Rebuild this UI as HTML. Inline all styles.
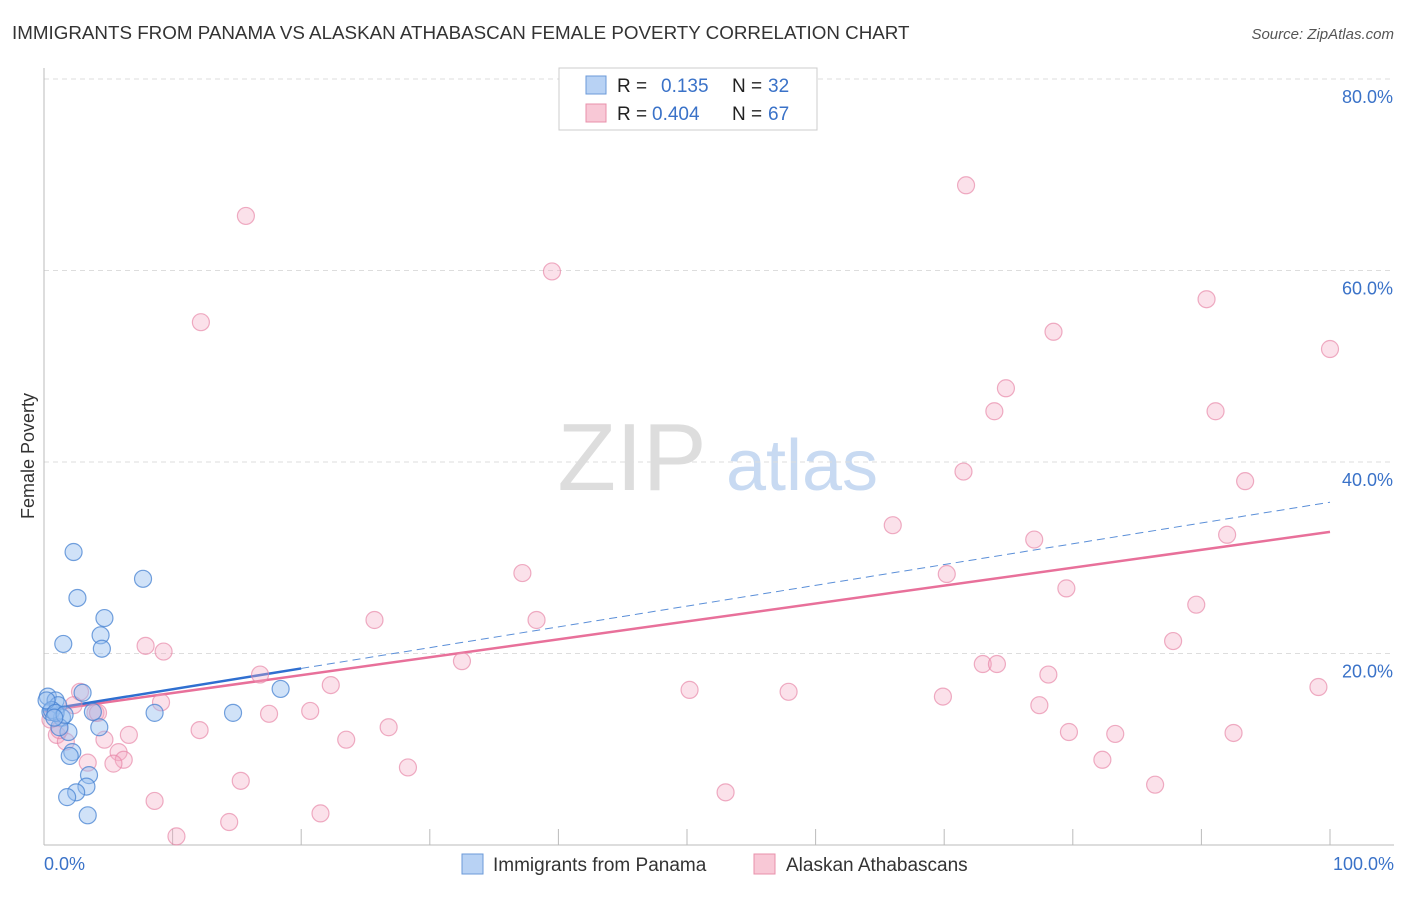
<!DOCTYPE html>
<html><head><meta charset="utf-8"><style>
body{margin:0;background:#fff;font-family:"Liberation Sans",sans-serif}
svg text{font-family:"Liberation Sans",sans-serif}
</style></head><body>
<svg id="chart" width="1406" height="892" viewBox="0 0 1406 892">
<text x="12" y="39" font-size="18.8" fill="#333">IMMIGRANTS FROM PANAMA VS ALASKAN ATHABASCAN FEMALE POVERTY CORRELATION CHART</text>
<text x="1394" y="39" font-size="15" fill="#555" font-style="italic" text-anchor="end">Source: ZipAtlas.com</text>
<text x="34" y="456" font-size="18" fill="#333" transform="rotate(-90 34 456)" text-anchor="middle">Female Poverty</text>
<g>
<text x="632" y="490" font-size="96" font-family="Liberation Serif,serif" fill="#ddd" text-anchor="middle">ZIP</text>
<text x="802" y="490" font-size="72" fill="#c8daf2" text-anchor="middle">atlas</text>
</g>
<g id="grid"></g><g id="axes"></g><g id="trend"></g><g id="pts"></g>
<g>
<rect x="559" y="68" width="258" height="62" fill="#fff" stroke="#ccc"/>
<rect x="586" y="76" width="20" height="18" fill="#b8d2f4" stroke="#6b9ad8"/>
<rect x="586" y="104" width="20" height="18" fill="#f8c8d6" stroke="#e890ab"/>
<text x="617" y="92" font-size="19" fill="#222">R = </text><text x="661" y="92" font-size="19" fill="#3a72c8">0.135</text>
<text x="732" y="92" font-size="19" fill="#222">N = </text><text x="768" y="92" font-size="19" fill="#3a72c8">32</text>
<text x="617" y="120" font-size="19" fill="#222">R = </text><text x="652" y="120" font-size="19" fill="#3a72c8">0.404</text>
<text x="732" y="120" font-size="19" fill="#222">N = </text><text x="768" y="120" font-size="19" fill="#3a72c8">67</text>
</g>
<g>
<rect x="462" y="854" width="21" height="20" fill="#b8d2f4" stroke="#6b9ad8"/>
<text x="493" y="871" font-size="19" fill="#333">Immigrants from Panama</text>
<rect x="754" y="854" width="21" height="20" fill="#f8c8d6" stroke="#e890ab"/>
<text x="786" y="871" font-size="19" fill="#333">Alaskan Athabascans</text>
</g>
</svg>
<script>
const blueX=[2.3,7.7,2.6,4.7,4.4,4.5,1.5,3.0,18.4,8.6,14.7,0.3,0.9,0.5,1.1,1.4,1.9,4.3,3.8,1.2,2.2,2.0,3.5,3.3,2.5,1.8,3.4,0.6,0.2,0.9,1.6,0.8];
const blueY=[30.6,27.8,25.8,23.7,21.9,20.5,21.0,15.9,16.3,13.8,13.8,15.5,15.1,13.9,14.6,13.3,11.8,12.3,13.9,12.3,9.7,9.3,7.3,6.1,5.5,5.0,3.1,14.1,15.1,13.8,13.6,13.3];
const pinkX=[15.7,71.7,12.2,39.5,90.4,78.5,100,74.8,73.9,91.1,71.5,93.4,66.0,92.0,77.0,37.2,70.2,79.5,89.6,25.7,38.3,87.8,7.9,9.3,32.5,73.0,74.1,78.1,16.8,22.3,50.2,57.9,69.9,99.1,2.8,9.1,77.4,20.7,4.0,17.5,26.8,12.1,79.7,83.3,92.5,6.6,1.0,1.7,4.7,23.5,5.8,6.2,5.4,3.4,82.3,28.3,15.3,86.4,53.0,8.6,21.5,14.4,10.3,0.5,4.2,1.2,2.3];
const pinkY=[65.7,68.9,54.6,59.9,57.0,53.6,51.8,47.7,45.3,45.3,39.0,38.0,33.4,32.4,31.9,28.4,28.3,26.8,25.1,23.5,23.5,21.3,20.8,20.2,19.2,18.9,18.9,17.8,17.8,16.7,16.2,16.0,15.5,16.5,16.0,14.9,14.6,14.0,13.8,13.7,12.3,12.0,11.8,11.6,11.7,11.5,11.5,10.8,11.0,11.0,9.7,8.9,8.5,8.6,8.9,8.1,6.7,6.3,5.5,4.6,3.3,2.4,0.9,13.1,13.8,12.0,14.6];
const blueTrend=[14.1,35.8]; // y at x=0 and x=100
const pinkTrend=[14.0,32.7];
const yTicks=[20,40,60,80];
const xTickLabels=["0.0%","100.0%"];
const NS="http://www.w3.org/2000/svg";
const sx=v=>44+v*12.86, sy=v=>845-v*9.575;
function mk(t,a,p){const e=document.createElementNS(NS,t);for(const k in a)e.setAttribute(k,a[k]);p.appendChild(e);return e;}
const grid=document.getElementById('grid'),axes=document.getElementById('axes'),tr=document.getElementById('trend'),pts=document.getElementById('pts');
yTicks.forEach(t=>{
 const l=mk('line',{x1:44,x2:1394,y1:sy(t),y2:sy(t),stroke:'#ddd','stroke-dasharray':'5,4'},grid);
 
 
 const tx=mk('text',{x:1393,y:sy(t)+24,'font-size':18,fill:'#3a72c8','text-anchor':'end'},grid);tx.textContent=t.toFixed(1)+'%';
 
 
});
const ax=mk('line',{x1:44,x2:1394,y1:845,y2:845,stroke:'#bbb'},axes);


const ay=mk('line',{x1:44,x2:44,y1:68,y2:845,stroke:'#bbb'},axes);


for(let i=0;i<=10;i++){const t=mk('line',{x1:sx(i*10),x2:sx(i*10),y1:829,y2:845,stroke:'#bbb'},axes);
 
 }
[[0,'start',44],[100,'end',1394]].forEach((d,i)=>{const t=mk('text',{x:d[2],y:870,'font-size':18,fill:'#3a72c8','text-anchor':d[1]},axes);t.textContent=xTickLabels[i];
 
 });
function line(tv,x0,x1,col,dash,w,name){const f=x=>tv[0]+(tv[1]-tv[0])*x/100;
 const l=mk('line',{x1:sx(x0),x2:sx(x1),y1:sy(f(x0)),y2:sy(f(x1)),stroke:col,'stroke-width':w},tr);if(dash)l.setAttribute('stroke-dasharray',dash);
 
 }
line(blueTrend,20,100,'#5b8fd8','8,5',1,'panama-trend-dashed');
line(pinkTrend,0,100,'#e8709a',null,2.5,'athabascan-trend');
line(blueTrend,0,20,'#2f6fd0',null,2.5,'panama-trend');
pinkX.forEach((x,i)=>{const c=mk('circle',{cx:sx(x),cy:sy(pinkY[i]),r:8.5,fill:'rgba(244,170,195,0.35)',stroke:'rgba(230,130,165,0.65)','stroke-width':1.2},pts);
 
 });
blueX.forEach((x,i)=>{const c=mk('circle',{cx:sx(x),cy:sy(blueY[i]),r:8.5,fill:'rgba(150,190,240,0.45)',stroke:'rgba(70,130,210,0.75)','stroke-width':1.2},pts);
 
 });
</script>
</body></html>
